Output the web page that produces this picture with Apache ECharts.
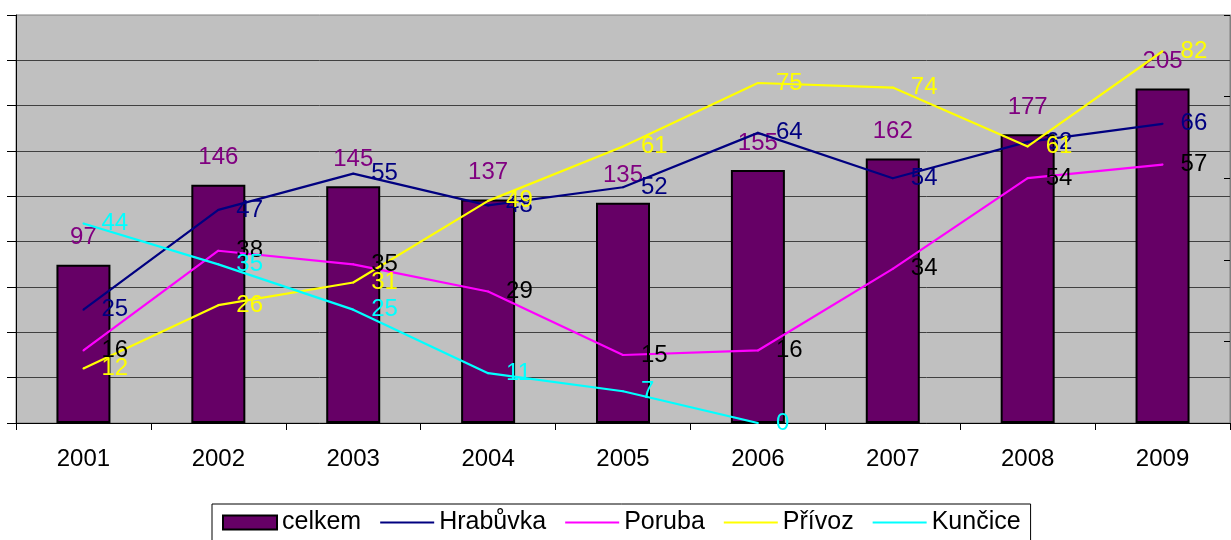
<!DOCTYPE html>
<html>
<head>
<meta charset="utf-8">
<script src="https://cdn.jsdelivr.net/npm/echarts@6.0.0/dist/echarts.min.js"></script>
<style>
  html, body { margin: 0; padding: 0; background: #fff; }
  #chart { width: 1231px; height: 540px; }
</style>
</head>
<body>
<div id="chart"></div>
<script>
const years = ['2001', '2002', '2003', '2004', '2005', '2006', '2007', '2008', '2009'];
const celkem = [97, 146, 145, 137, 135, 155, 162, 177, 205];
const hrabuvka = [25, 47, 55, 48, 52, 64, 54, 62, 66];
const poruba = [16, 38, 35, 29, 15, 16, 34, 54, 57];
const privoz = [12, 26, 31, 49, 61, 75, 74, 61, 82];
const kuncice = [44, 35, 25, 11, 7, 0, '-', '-', '-'];

const FONT = 'Arial, "Liberation Sans", sans-serif';

// line series share the same look, only colours differ
function lineSeries(name, data, color, labelColor) {
  return {
    name,
    type: 'line',
    yAxisIndex: 0,
    data,
    symbol: 'circle',
    symbolSize: 2,
    itemStyle: { color },
    lineStyle: { color, width: 2.2 },
    label: {
      show: true,
      position: 'right',
      distance: 17,
      color: labelColor,
      fontSize: 24,
      fontFamily: FONT
    },
    emphasis: { disabled: true }
  };
}

const chart = echarts.init(document.getElementById('chart'), null, { renderer: 'canvas' });

chart.setOption({
  animation: false,
  backgroundColor: '#fff',
  textStyle: { fontFamily: FONT },
  grid: {
    left: 16,
    right: 1,
    top: 15,
    bottom: 117,
    show: true,
    backgroundColor: '#c0c0c0',
    borderColor: '#808080',
    borderWidth: 1
  },
  legend: {
    left: 212,
    top: 504,
    padding: [6, 10, 6, 10],
    borderColor: '#000',
    borderWidth: 1,
    itemWidth: 54,
    itemHeight: 14,
    itemGap: 18,
    textStyle: { color: '#000', fontSize: 25, fontFamily: FONT },
    data: [
      { name: 'celkem', icon: 'rect', itemStyle: { borderColor: '#000', borderWidth: 2 } },
      { name: 'Hrabůvka', itemStyle: { opacity: 0 } },
      { name: 'Poruba', itemStyle: { opacity: 0 } },
      { name: 'Přívoz', itemStyle: { opacity: 0 } },
      { name: 'Kunčice', itemStyle: { opacity: 0 } }
    ]
  },
  xAxis: {
    type: 'category',
    data: years,
    boundaryGap: true,
    axisLine: { lineStyle: { color: '#000', width: 1 } },
    axisTick: { show: true, length: 7, lineStyle: { color: '#000' } },
    axisLabel: { color: '#000', fontSize: 24, margin: 24, fontFamily: FONT },
    splitLine: { show: false }
  },
  yAxis: [
    {
      // lines
      type: 'value',
      position: 'left',
      min: 0,
      max: 90,
      interval: 10,
      axisLine: { show: true, lineStyle: { color: '#000', width: 1 } },
      axisTick: { show: true, length: 9, lineStyle: { color: '#000' } },
      axisLabel: { show: false },
      splitLine: { show: true, showMaxLine: false, lineStyle: { color: '#404040', width: 1 } }
    },
    {
      // bars
      type: 'value',
      position: 'right',
      min: 0,
      max: 250,
      interval: 50,
      axisLine: { show: true, lineStyle: { color: '#808080', width: 1 } },
      axisTick: { show: true, inside: true, length: 6, lineStyle: { color: '#000' } },
      axisLabel: { show: false },
      splitLine: { show: false }
    }
  ],
  series: [
    {
      name: 'celkem',
      type: 'bar',
      yAxisIndex: 1,
      data: celkem,
      barWidth: 54,
      itemStyle: { color: '#660066', borderColor: '#000', borderWidth: 2 },
      label: {
        show: true,
        position: 'top',
        distance: 15,
        color: '#800080',
        fontSize: 24,
        fontFamily: FONT
      },
      emphasis: { disabled: true }
    },
    lineSeries('Hrabůvka', hrabuvka, '#000080', '#000080'),
    lineSeries('Poruba', poruba, '#ff00ff', '#000000'),
    lineSeries('Přívoz', privoz, '#ffff00', '#ffff00'),
    lineSeries('Kunčice', kuncice, '#00ffff', '#00ffff')
  ]
});
</script>
</body>
</html>
